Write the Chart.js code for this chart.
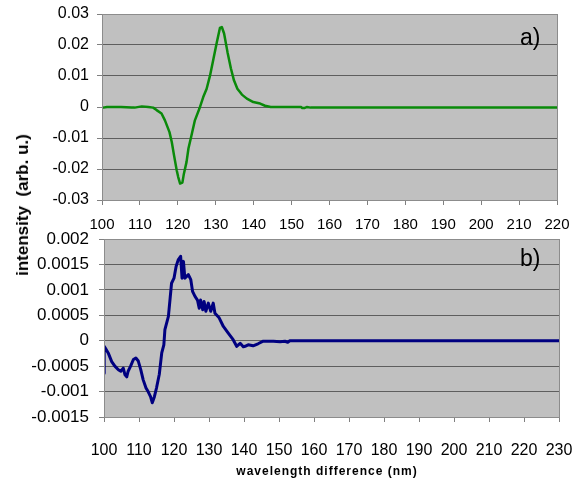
<!DOCTYPE html>
<html>
<head>
<meta charset="utf-8">
<script src="https://cdn.jsdelivr.net/npm/chart.js@4"></script>
<style>
  html, body { margin:0; padding:0; background:#fff; }
  #wrap { position:relative; width:583px; height:484px; overflow:hidden; font-family:"Liberation Sans", Arial, sans-serif; }
  canvas { position:absolute; left:0; }
  #cA { top:0; }
  #cB { top:228px; }
  .lbl { position:absolute; color:#000; white-space:nowrap; }
  #ytitle { left:23px; top:205px; font-weight:bold; font-size:17px; transform:translate(-50%,-50%) rotate(-90deg); }
  #xtitle { left:327px; top:471px; font-weight:bold; font-size:12px; letter-spacing:1px; transform:translate(-50%,-50%); }
  #pa { left:520px; top:24px; font-size:23px; }
  #pb { left:520px; top:245px; font-size:23px; }
</style>
</head>
<body>
<div id="wrap">
  <canvas id="cA" width="583" height="240"></canvas>
  <canvas id="cB" width="583" height="256"></canvas>
  <div class="lbl" id="ytitle">intensity&nbsp;&nbsp;(arb. u.)</div>
  <div class="lbl" id="xtitle">wavelength difference (nm)</div>
  <div class="lbl" id="pa">a)</div>
  <div class="lbl" id="pb">b)</div>
</div>
<script>
// ---- panel a) data ----
const xA = [100, 100.35, 101.3, 105, 107.8, 108.6, 110.5, 112.2, 113.5, 114.4, 115.7, 116.6, 117.8, 118.4, 119.0, 119.7, 120.1, 120.6, 121.2, 121.6, 122.3, 122.8, 123.7, 124.5, 125.7, 126.7, 127.6, 128.5, 129.4, 130.3, 131.1, 131.6, 132.2, 133.1, 134.0, 134.8, 135.7, 136.9, 138.2, 139.9, 141.7, 143, 144.5, 152.5, 152.8, 153.5, 154, 155, 220];
const yA = [-0.0002, -0.0002, 0, 0, -0.0002, -0.0002, 0.0002, 0, -0.0002, -0.0010, -0.0021, -0.0043, -0.0081, -0.0113, -0.0156, -0.0204, -0.0226, -0.0247, -0.0244, -0.0215, -0.0177, -0.0134, -0.0086, -0.0043, -0.0005, 0.0032, 0.0059, 0.0102, 0.0156, 0.0210, 0.0255, 0.0258, 0.0237, 0.0177, 0.0124, 0.0086, 0.0059, 0.0040, 0.0027, 0.0016, 0.0011, 0.0004, 0, 0, -0.0003, -0.0003, 0, -0.0002, -0.0002];
const xTicksA = [100, 110, 120, 130, 140, 150, 160, 170, 180, 190, 200, 210, 220];
const yTicksA = [-0.03, -0.02, -0.01, 0, 0.01, 0.02, 0.03];
const yTickLabelsA = ['-0.03', '-0.02', '-0.01', '0', '0.01', '0.02', '0.03'];

// ---- panel b) data ----
const xB = [100, 100.05, 100.5, 101.2, 102.2, 103.1, 104.1, 104.8, 105.5, 106.0, 106.5, 106.9, 107.6, 108.4, 109.1, 109.8, 110.5, 111.2, 112.0, 112.6, 113.3, 113.8, 114.4, 115.0, 115.8, 116.5, 117.1, 117.4, 118.4, 118.9, 119.3, 120.0, 120.6, 121.2, 121.9, 122.3, 122.7, 123.1, 124.1, 124.8, 125.3, 126.0, 126.7, 127.2, 127.6, 128.2, 128.6, 129.1, 129.8, 130.5, 131.2, 131.7, 132.9, 134.1, 135.5, 136.9, 137.9, 138.9, 139.8, 140.3, 141.2, 142.6, 144.0, 145.5, 148.4, 150.3, 151.7, 152.5, 153.1, 230];
const yB = [-0.00064, -0.00011, -0.00016, -0.00024, -0.00041, -0.00050, -0.00057, -0.00060, -0.00054, -0.00067, -0.00071, -0.00060, -0.00050, -0.00037, -0.00034, -0.00040, -0.00057, -0.00077, -0.00093, -0.00100, -0.00110, -0.00122, -0.00110, -0.00093, -0.00066, -0.00024, -0.00008, 0.00022, 0.00048, 0.00084, 0.00113, 0.00123, 0.00146, 0.00159, 0.00166, 0.00123, 0.00156, 0.00123, 0.00130, 0.00120, 0.00097, 0.00087, 0.00080, 0.00064, 0.00080, 0.00061, 0.00077, 0.00058, 0.00074, 0.00058, 0.00074, 0.00054, 0.00045, 0.00028, 0.00015, 0.00002, -0.00011, -0.00005, -0.00012, -0.00011, -0.00008, -0.00010, -0.00006, -0.00001, -0.00001, -0.00002, -0.00001, -0.00003, 0, 0];
const xTicksB = [100, 110, 120, 130, 140, 150, 160, 170, 180, 190, 200, 210, 220, 230];
const yTicksB = [-0.0015, -0.001, -0.0005, 0, 0.0005, 0.001, 0.0015, 0.002];
const yTickLabelsB = ['-0.0015', '-0.001', '-0.0005', '0', '0.0005', '0.001', '0.0015', '0.002'];

const FONT = '"Liberation Sans", Arial, sans-serif';

const plotBg = {
  id: 'plotBg',
  beforeDraw(chart) {
    const { ctx, chartArea: a } = chart;
    ctx.save();
    ctx.fillStyle = '#c0c0c0';
    ctx.fillRect(a.left, a.top, a.right - a.left, a.bottom - a.top);
    ctx.restore();
  },
  afterDraw(chart) {
    const { ctx, chartArea: a } = chart;
    ctx.save();
    ctx.strokeStyle = '#8c8c8c';
    ctx.lineWidth = 1;
    ctx.strokeRect(Math.round(a.left) + 0.5, Math.round(a.top) + 0.5, Math.round(a.right - a.left), Math.round(a.bottom - a.top));
    ctx.restore();
  }
};

function zeroPad(s) { s.paddingTop = 0; s.paddingBottom = 0; s.paddingLeft = 0; s.paddingRight = 0; }

function makeChart(id, xs, ys, color, lw, xT, xMin, xMax, yT, yL, yMin, yMax, cfg) {
  const pts = xs.map((x, i) => ({ x: x, y: ys[i] }));
  return new Chart(document.getElementById(id), {
    type: 'line',
    data: { datasets: [{ data: pts, borderColor: color, borderWidth: lw, pointRadius: 0, tension: 0, fill: false, borderJoinStyle: 'round' }] },
    options: {
      responsive: false, animation: false, devicePixelRatio: 1,
      layout: { padding: { left: 0, top: cfg.top, right: cfg.right, bottom: 0 } },
      plugins: { legend: { display: false }, tooltip: { enabled: false } },
      scales: {
        x: {
          type: 'linear', min: xMin, max: xMax,
          afterBuildTicks: s => { s.ticks = xT.map(v => ({ value: v })); },
          afterFit: s => { s.height = cfg.xh; zeroPad(s); },
          ticks: { font: { family: FONT, size: cfg.xfs }, color: '#000', padding: cfg.xpad, maxRotation: 0, autoSkip: false, callback: v => String(v) },
          grid: { drawOnChartArea: false, drawTicks: true, tickLength: 5, color: '#808080', tickColor: '#808080' },
          border: { display: true, color: '#808080' }
        },
        y: {
          type: 'linear', min: yMin, max: yMax,
          afterBuildTicks: s => { s.ticks = yT.map(v => ({ value: v })); },
          afterFit: s => { s.width = cfg.yw; zeroPad(s); },
          ticks: { font: { family: FONT, size: cfg.yfs }, color: '#000', padding: cfg.ypad, autoSkip: false, callback: (v, i) => yL[i] },
          grid: { drawOnChartArea: true, drawTicks: true, tickLength: 5, color: '#5e5e5e', tickColor: '#808080' },
          border: { display: true, color: '#808080' }
        }
      }
    },
    plugins: [plotBg]
  });
}

makeChart('cA', xA, yA, '#0a8a0a', 2.5, xTicksA, 100, 220, yTicksA, yTickLabelsA, -0.03, 0.03,
  { top: 14, right: 26, xh: 40, yw: 102, xfs: 15, yfs: 16, xpad: 11, ypad: 8 });
makeChart('cB', xB, yB, '#000080', 3, xTicksB, 100, 230, yTicksB, yTickLabelsB, -0.0015, 0.002,
  { top: 11, right: 24, xh: 67, yw: 104, xfs: 16, yfs: 17, xpad: 19, ypad: 10 });
</script>
</body>
</html>
